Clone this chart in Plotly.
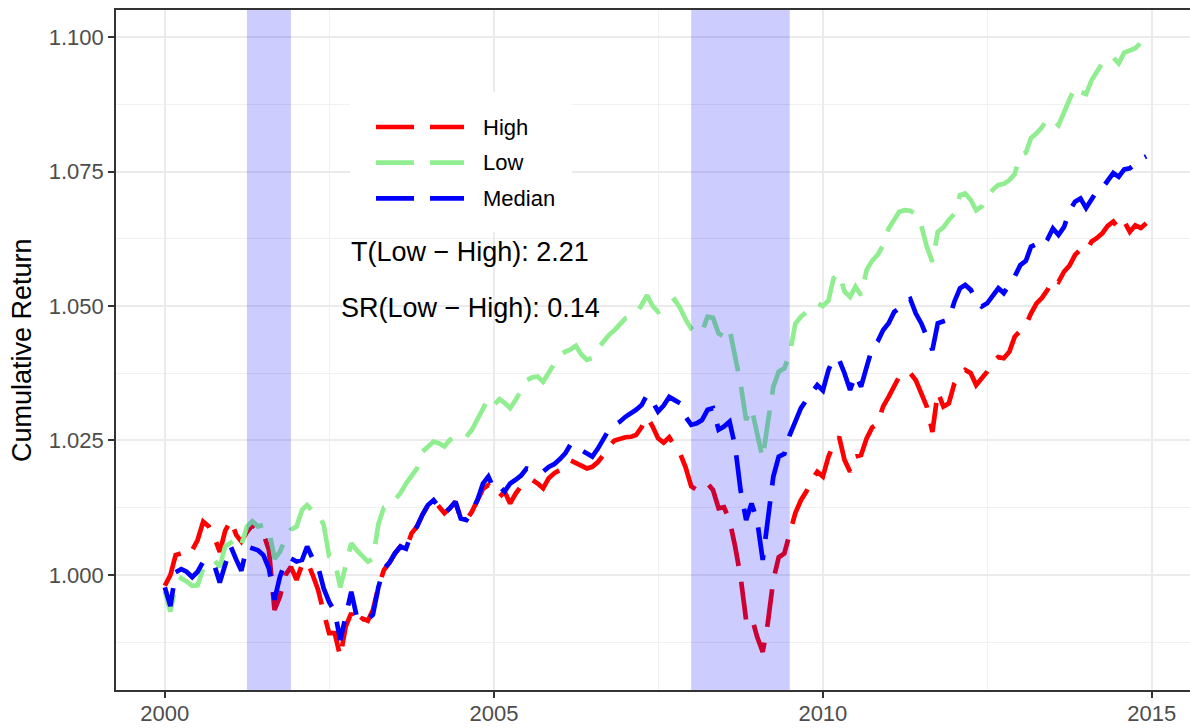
import pandas as pd
import plotly.graph_objects as go

# Monthly observations, Jan 2000 - Dec 2014
months = pd.date_range("2000-01-01", periods=180, freq="MS")

high = [
    0.9980, 1.0000, 1.0037, 1.0040, 1.0035, 1.0046, 1.0065, 1.0099, 1.0090, 1.0071, 1.0043, 1.0082,
    1.0102, 1.0074, 1.0062, 1.0080, 1.0093, 1.0084, 1.0077, 1.0046, 0.9935, 0.9960, 1.0000, 1.0015,
    0.9991, 1.0019, 1.0025, 1.0000, 0.9972, 0.9930, 0.9892, 0.9892, 0.9848, 0.9904, 0.9929, 0.9907,
    0.9919, 0.9915, 0.9935, 0.9978, 1.0009, 1.0023, 1.0040, 1.0053, 1.0046, 1.0077, 1.0090, 1.0112,
    1.0130, 1.0139, 1.0127, 1.0115, 1.0124, 1.0136, 1.0105, 1.0102, 1.0118, 1.0139, 1.0160, 1.0167,
    1.0152, 1.0145, 1.0155, 1.0133, 1.0151, 1.0165, 1.0170, 1.0177, 1.0170, 1.0161, 1.0180, 1.0189,
    1.0195, 1.0208, 1.0213, 1.0208, 1.0201, 1.0198, 1.0201, 1.0210, 1.0223, 1.0239, 1.0250, 1.0254,
    1.0256, 1.0257, 1.0260, 1.0275, 1.0294, 1.0276, 1.0254, 1.0246, 1.0256, 1.0240, 1.0225, 1.0200,
    1.0165, 1.0158, 1.0164, 1.0170, 1.0158, 1.0124, 1.0126, 1.0102, 1.0053, 0.9997, 0.9916, 0.9923,
    0.9885, 0.9857, 0.9910, 0.9991, 1.0033, 1.0040, 1.0077, 1.0115, 1.0139, 1.0155, 1.0177, 1.0192,
    1.0183, 1.0220, 1.0242, 1.0257, 1.0214, 1.0192, 1.0220, 1.0223, 1.0254, 1.0274, 1.0281, 1.0313,
    1.0331, 1.0353, 1.0369, 1.0378, 1.0375, 1.0362, 1.0335, 1.0313, 1.0266, 1.0340, 1.0313, 1.0319,
    1.0356, 1.0372, 1.0381, 1.0375, 1.0353, 1.0365, 1.0378, 1.0395, 1.0405, 1.0403, 1.0415, 1.0443,
    1.0455, 1.0465, 1.0486, 1.0505, 1.0515, 1.0530, 1.0551, 1.0545, 1.0564, 1.0575, 1.0595, 1.0605,
    1.0601, 1.0620, 1.0626, 1.0635, 1.0649, 1.0657, 1.0644, 1.0657, 1.0638, 1.0650, 1.0645, 1.0654,
]

low = [
    0.9969, 0.9932, 0.9980, 0.9994, 0.9988, 0.9980, 0.9981, 1.0012, 1.0020, 1.0028, 1.0015, 1.0053,
    1.0060, 1.0046, 1.0056, 1.0090, 1.0100, 1.0090, 1.0093, 1.0084, 1.0030, 1.0043, 1.0068, 1.0084,
    1.0090, 1.0121, 1.0130, 1.0118, 1.0115, 1.0093, 1.0035, 1.0026, 0.9977, 1.0015, 1.0059, 1.0046,
    1.0034, 1.0025, 1.0030, 1.0095, 1.0125, 1.0128, 1.0140, 1.0152, 1.0170, 1.0183, 1.0198, 1.0229,
    1.0239, 1.0248, 1.0245, 1.0239, 1.0251, 1.0257, 1.0252, 1.0257, 1.0270, 1.0288, 1.0310, 1.0328,
    1.0316, 1.0327, 1.0320, 1.0310, 1.0325, 1.0344, 1.0362, 1.0367, 1.0369, 1.0359, 1.0375, 1.0390,
    1.0409, 1.0415, 1.0419, 1.0426, 1.0410, 1.0400, 1.0403, 1.0421, 1.0434, 1.0446, 1.0455, 1.0465,
    1.0477, 1.0480, 1.0486, 1.0502, 1.0520, 1.0500, 1.0489, 1.0494, 1.0505, 1.0512, 1.0496, 1.0475,
    1.0458, 1.0449, 1.0452, 1.0480, 1.0478, 1.0449, 1.0443, 1.0457, 1.0406, 1.0356, 1.0288, 1.0310,
    1.0263, 1.0217, 1.0282, 1.0350, 1.0378, 1.0384, 1.0410, 1.0467, 1.0480, 1.0488, 1.0498, 1.0505,
    1.0500, 1.0510, 1.0551, 1.0561, 1.0527, 1.0517, 1.0536, 1.0520, 1.0567, 1.0584, 1.0595, 1.0613,
    1.0644, 1.0660, 1.0675, 1.0678, 1.0677, 1.0671, 1.0650, 1.0610, 1.0582, 1.0638, 1.0646, 1.0660,
    1.0671, 1.0706, 1.0709, 1.0697, 1.0678, 1.0685, 1.0703, 1.0716, 1.0725, 1.0727, 1.0734, 1.0745,
    1.0781, 1.0785, 1.0812, 1.0821, 1.0832, 1.0849, 1.0846, 1.0836, 1.0859, 1.0880, 1.0908, 1.0898,
    1.0894, 1.0920, 1.0935, 1.0951, 1.0951, 1.0962, 1.0951, 1.0971, 1.0975, 1.0979, 1.0989, 1.0996,
]

median = [
    0.9977, 0.9942, 1.0005, 1.0011, 1.0006, 0.9996, 1.0006, 1.0025, 1.0022, 1.0019, 0.9986, 1.0019,
    1.0053, 1.0028, 1.0008, 1.0053, 1.0050, 1.0046, 1.0037, 1.0012, 0.9954, 0.9997, 1.0025, 1.0031,
    1.0025, 1.0028, 1.0053, 1.0030, 1.0015, 0.9975, 0.9950, 0.9932, 0.9879, 0.9927, 0.9969, 0.9923,
    0.9923, 0.9918, 0.9926, 0.9978, 1.0012, 1.0023, 1.0040, 1.0053, 1.0049, 1.0077, 1.0090, 1.0112,
    1.0130, 1.0139, 1.0127, 1.0115, 1.0124, 1.0136, 1.0105, 1.0102, 1.0118, 1.0139, 1.0170, 1.0183,
    1.0160, 1.0165, 1.0155, 1.0170, 1.0177, 1.0185, 1.0198, 1.0196, 1.0196, 1.0192, 1.0201, 1.0206,
    1.0215, 1.0226, 1.0242, 1.0243, 1.0232, 1.0227, 1.0220, 1.0235, 1.0251, 1.0270, 1.0279, 1.0285,
    1.0294, 1.0300, 1.0307, 1.0316, 1.0335, 1.0322, 1.0304, 1.0315, 1.0331, 1.0325, 1.0319, 1.0294,
    1.0279, 1.0282, 1.0288, 1.0307, 1.0310, 1.0270, 1.0276, 1.0285, 1.0239, 1.0158, 1.0102, 1.0133,
    1.0102, 1.0028, 1.0102, 1.0183, 1.0220, 1.0225, 1.0260, 1.0288, 1.0310, 1.0325, 1.0341, 1.0353,
    1.0343, 1.0381, 1.0403, 1.0400, 1.0375, 1.0344, 1.0372, 1.0350, 1.0387, 1.0421, 1.0434, 1.0455,
    1.0468, 1.0489, 1.0496, 1.0508, 1.0513, 1.0486, 1.0468, 1.0443, 1.0418, 1.0468, 1.0471, 1.0475,
    1.0508, 1.0533, 1.0539, 1.0530, 1.0511, 1.0499, 1.0505, 1.0520, 1.0533, 1.0524, 1.0540, 1.0555,
    1.0576, 1.0584, 1.0610, 1.0615, 1.0610, 1.0624, 1.0644, 1.0632, 1.0647, 1.0677, 1.0694, 1.0700,
    1.0682, 1.0697, 1.0713, 1.0719, 1.0733, 1.0747, 1.0740, 1.0754, 1.0756, 1.0765, 1.0773, 1.0778,
]

series_names = ["High", "Low", "Median"]
series_values = [high, low, median]
series_colors = ["#FF0000", "#90EE90", "#0000FF"]

# Recession periods shaded on the chart
recessions = [("2001-04-01", "2001-12-01"), ("2008-01-01", "2009-07-01")]

t_stat_label = "T(Low \u2212 High): 2.21"
sr_label = "SR(Low \u2212 High): 0.14"

FONT = "Liberation Sans, Arial, Helvetica, sans-serif"
DASH = "38px,16px"
LINE_W = 4.7

W, H = 1190, 728
PL, PR, PT, PB = 116, 1190, 10, 690  # plot-area edges in pixels


def px(x):
    return (x - PL) / (PR - PL)


def py(y):
    return (PB - y) / (PB - PT)


fig = go.Figure()
for name, vals, col in zip(series_names, series_values, series_colors):
    fig.add_trace(go.Scatter(
        x=months, y=vals, name=name, mode="lines",
        line=dict(color=col, width=LINE_W, dash=DASH),
        showlegend=False,
    ))

shapes = []
for start, end in recessions:
    shapes.append(dict(
        type="rect", xref="x", yref="paper", x0=start, x1=end, y0=0, y1=1,
        fillcolor="rgba(0,0,255,0.2)", line=dict(width=0), layer="above",
    ))

# Legend drawn by hand: white box, dashed keys and labels
shapes.append(dict(
    type="rect", xref="paper", yref="paper",
    x0=px(350), x1=px(572), y0=py(232), y1=py(92),
    fillcolor="white", line=dict(width=0), layer="above",
))
annotations = []
for k, (name, col) in enumerate(zip(series_names, series_colors)):
    yk = 127 + 35.7 * k
    shapes.append(dict(
        type="line", xref="paper", yref="paper",
        x0=px(376), x1=px(464), y0=py(yk), y1=py(yk),
        line=dict(color=col, width=LINE_W, dash=DASH), layer="above",
    ))
    annotations.append(dict(
        xref="paper", yref="paper", x=px(481), y=py(yk), text=name,
        showarrow=False, xanchor="left", yanchor="middle",
        font=dict(family=FONT, size=22, color="black"),
    ))

annotations += [
    dict(xref="x", yref="y", x="2004-08-22", y=1.0600, text=t_stat_label,
         showarrow=False, xanchor="center", yanchor="middle",
         font=dict(family=FONT, size=27, color="black")),
    dict(xref="x", yref="y", x="2004-08-22", y=1.0497, text=sr_label,
         showarrow=False, xanchor="center", yanchor="middle",
         font=dict(family=FONT, size=27, color="black")),
    dict(xref="paper", yref="paper", x=px(22), y=0.5, text="Cumulative Return",
         textangle=-90, showarrow=False, xanchor="center", yanchor="middle",
         font=dict(family=FONT, size=27, color="black")),
]

axis_common = dict(
    showgrid=True, gridcolor="#EBEBEB", gridwidth=2.4,
    zeroline=False, showline=True, linecolor="#333333", linewidth=1.6,
    ticks="outside", ticklen=6, tickwidth=1.5, tickcolor="#333333",
    tickfont=dict(family=FONT, size=22, color="#4D4D4D"),
)

fig.update_layout(
    width=W, height=H,
    margin=dict(l=PL, r=W - PR, t=PT, b=H - PB, autoexpand=False),
    paper_bgcolor="white", plot_bgcolor="white",
    font=dict(family=FONT),
    shapes=shapes, annotations=annotations,
    xaxis=dict(
        **axis_common, type="date", range=["1999-04-05", "2015-08-01"],
        tick0="2000-01-01", dtick="M60", tickformat="%Y", mirror=True,
        ticklabelstandoff=-3,
        minor=dict(tick0="2000-01-01", dtick="M30", showgrid=True,
                   gridcolor="#F0F0F0", gridwidth=1.2, ticks=""),
    ),
    yaxis=dict(
        **axis_common, range=[0.97862, 1.10502], tick0=1.0, dtick=0.025,
        tickformat=".3f", mirror=False,
        minor=dict(tick0=1.0, dtick=0.0125, showgrid=True,
                   gridcolor="#F0F0F0", gridwidth=1.2, ticks=""),
    ),
)

fig.write_html("out.html")
